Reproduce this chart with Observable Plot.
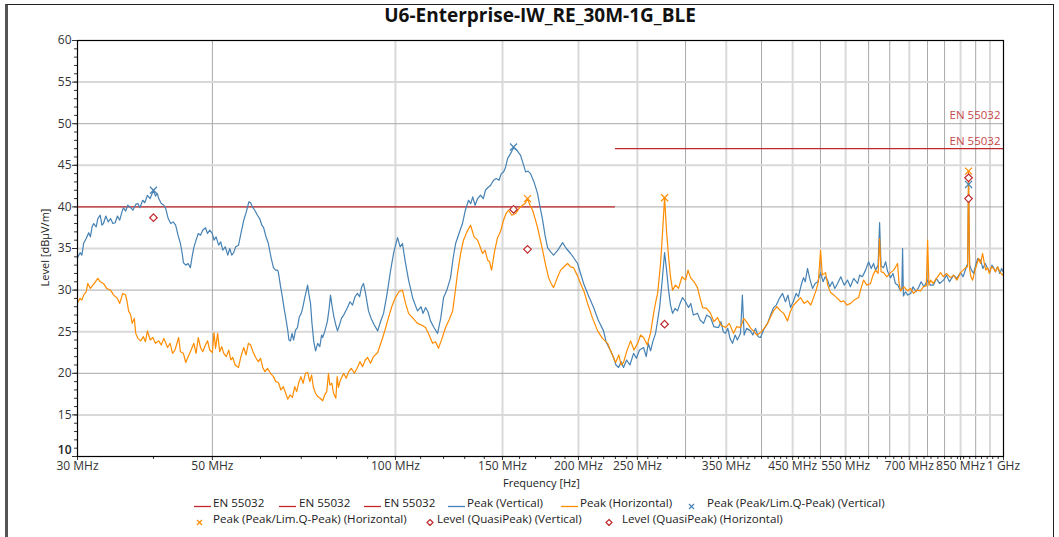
<!DOCTYPE html>
<html><head><meta charset="utf-8">
<script src="https://cdn.jsdelivr.net/npm/d3@7"></script>
<script src="https://cdn.jsdelivr.net/npm/@observablehq/plot@0.6"></script>
<style>
body{margin:0;background:#fff;font-family:"Open Sans",sans-serif;}
#wrap{position:relative;width:1059px;height:537px;overflow:hidden;background:#fff;}
#border{position:absolute;left:5px;top:4px;width:1045px;height:600px;border-top:1px solid #222;border-left:3px solid #555;border-right:1px solid #222;}
#title{position:absolute;left:0;width:1080px;top:2px;text-align:center;font-weight:700;font-size:19px;color:#111;}
#chart{position:absolute;left:0;top:0;}
.lab{position:absolute;font-size:11px;color:#222;white-space:nowrap;}
.leg{position:absolute;font-size:11.6px;color:#222;white-space:nowrap;line-height:14px;}
</style></head>
<body><div id="wrap"><div id="border"></div><div id="chart"></div><div id="title"></div></div>
<script>
const title = "U6-Enterprise-IW_RE_30M-1G_BLE";
const xTitle = "Frequency [Hz]";
const yTitle = "Level [dBµV/m]";

// Peak (Vertical) trace: [frequency MHz, level dBµV/m]
const vTrace = [[30.0,33.9],[30.3,34.5],[30.5,34.2],[30.7,35.6],[31.0,36.2],[31.3,36.9],[31.5,36.4],[31.7,37.6],[31.9,38.0],[32.2,37.6],[32.4,38.6],[32.7,39.0],[32.9,37.8],[33.1,38.0],[33.4,38.9],[33.7,38.2],[34.0,38.6],[34.3,38.0],[34.6,38.1],[34.9,38.9],[35.2,38.4],[35.5,39.4],[35.7,39.9],[36.0,39.5],[36.3,40.2],[36.7,39.9],[37.0,39.6],[37.4,40.3],[37.7,40.4],[38.0,39.9],[38.4,40.8],[38.7,40.5],[39.1,41.4],[39.5,41.0],[39.8,41.6],[40.0,42.0],[40.3,41.3],[40.6,41.6],[40.8,41.0],[41.2,40.4],[41.6,40.2],[41.9,39.8],[42.3,38.6],[42.7,38.0],[43.1,38.2],[43.5,37.8],[43.9,36.6],[44.3,35.6],[44.6,34.4],[44.8,33.3],[45.2,33.0],[45.6,33.2],[46.0,32.7],[46.3,34.0],[46.6,35.1],[47.0,36.0],[47.4,36.8],[47.8,36.6],[48.2,37.2],[48.7,37.5],[49.1,36.8],[49.5,37.2],[50.0,36.8],[50.3,36.0],[50.7,36.4],[51.2,35.4],[51.6,35.8],[52.0,34.8],[52.5,35.2],[53.0,34.2],[53.4,35.0],[53.8,34.2],[54.2,34.5],[54.6,35.2],[55.2,35.4],[55.7,36.8],[56.3,38.4],[56.9,39.5],[57.4,40.6],[57.8,40.5],[58.2,40.0],[58.7,39.6],[59.3,39.0],[59.8,38.6],[60.3,37.8],[60.7,37.5],[61.2,36.5],[61.8,35.6],[62.4,34.0],[63.0,32.7],[63.5,32.4],[64.0,32.4],[64.2,32.1],[64.7,30.5],[65.2,29.1],[65.6,27.8],[66.0,26.7],[66.5,25.2],[66.8,24.0],[67.2,23.9],[67.6,24.8],[68.0,24.0],[68.5,25.2],[69.0,25.5],[69.5,26.8],[70.0,27.2],[70.4,27.9],[70.9,29.0],[71.4,30.0],[71.7,30.6],[72.1,29.4],[72.5,28.4],[72.9,26.0],[73.4,23.8],[73.9,22.7],[74.5,23.6],[75.1,23.2],[75.6,24.6],[75.9,24.3],[76.5,25.0],[77.0,25.8],[77.3,26.3],[77.8,27.8],[78.2,29.4],[78.7,28.0],[79.2,26.8],[79.8,25.8],[80.3,25.1],[80.9,25.8],[81.5,26.6],[82.2,27.0],[83.4,27.9],[84.2,28.6],[85.0,28.2],[85.8,29.2],[86.6,29.6],[87.3,29.2],[88.0,30.4],[88.6,30.8],[89.3,29.6],[90.3,27.5],[91.2,26.6],[92.3,25.8],[93.5,25.1],[94.5,26.2],[95.6,27.2],[96.8,29.4],[98.2,32.4],[99.4,34.6],[100.8,36.3],[101.8,35.2],[102.7,35.6],[103.8,33.4],[105.1,31.2],[106.8,29.0],[108.7,27.5],[110.2,28.0],[111.0,27.2],[112.1,27.9],[113.1,27.4],[114.2,26.3],[115.7,25.5],[117.3,24.8],[118.7,26.6],[120.0,29.1],[121.5,30.0],[123.2,31.5],[124.4,33.8],[125.6,35.6],[127.2,36.8],[128.9,38.0],[130.3,39.6],[131.9,40.8],[133.0,40.4],[134.0,41.2],[135.2,40.2],[136.5,41.0],[138.0,41.4],[139.5,41.0],[140.6,42.0],[141.8,42.3],[143.4,42.6],[145.0,43.2],[146.5,43.4],[148.0,43.2],[149.3,44.0],[150.6,44.2],[151.8,44.8],[152.9,45.8],[154.6,46.4],[156.4,47.1],[158.4,46.8],[160.6,46.2],[162.2,45.2],[163.7,44.2],[165.2,44.3],[166.8,44.0],[169.0,43.0],[171.3,41.6],[172.9,40.0],[174.6,38.4],[176.2,36.6],[177.9,35.1],[180.0,34.6],[182.0,34.2],[185.0,34.8],[188.3,35.7],[191.0,35.0],[194.1,34.4],[196.8,33.8],[199.3,33.2],[201.6,32.0],[203.9,30.8],[207.5,29.4],[211.8,27.9],[215.5,26.4],[219.9,25.1],[222.0,23.8],[225.8,22.7],[228.4,21.9],[230.5,21.0],[232.8,20.7],[235.0,21.4],[237.2,20.7],[240.0,21.6],[243.0,21.0],[246.4,22.4],[249.0,21.8],[252.0,22.8],[255.9,23.1],[258.5,22.0],[260.5,23.6],[262.8,22.7],[265.0,23.8],[267.8,24.8],[269.9,26.4],[271.9,27.9],[274.5,31.0],[277.1,34.5],[279.2,32.4],[281.3,30.0],[283.4,28.2],[285.6,27.2],[288.2,27.8],[291.0,27.5],[293.8,28.4],[296.6,29.1],[300.0,28.6],[303.4,27.9],[306.0,28.4],[309.0,27.0],[313.9,27.2],[317.0,26.4],[321.2,26.0],[325.0,27.0],[329.8,26.7],[334.0,25.6],[339.9,25.5],[343.0,26.2],[346.0,25.0],[349.0,24.8],[352.0,25.4],[355.0,24.2],[358.4,23.6],[362.0,24.6],[365.0,24.0],[369.4,24.8],[372.0,29.4],[374.5,24.6],[378.0,25.4],[383.7,25.1],[387.0,24.6],[391.0,25.4],[395.0,24.4],[398.5,24.3],[403.0,25.2],[409.2,26.0],[413.0,26.8],[418.6,27.9],[423.0,28.2],[428.0,29.0],[433.1,29.6],[438.0,28.6],[442.0,29.4],[446.5,27.9],[451.0,28.6],[456.0,29.6],[460.0,29.2],[463.7,30.3],[466.5,31.0],[469.0,31.5],[472.0,31.0],[476.1,32.6],[480.0,31.4],[485.2,30.2],[490.0,30.8],[495.0,31.0],[500.2,32.1],[505.0,31.0],[509.0,31.6],[513.6,31.2],[518.0,30.4],[523.0,31.0],[528.0,30.2],[533.5,30.8],[540.0,31.6],[547.0,30.6],[554.1,31.2],[560.0,30.4],[567.0,31.4],[575.5,30.8],[580.0,31.8],[586.0,31.6],[593.2,32.4],[600.0,33.4],[606.0,32.6],[611.4,33.2],[616.0,32.4],[622.0,33.0],[625.5,38.1],[629.0,32.9],[635.0,32.7],[640.0,33.4],[645.0,32.2],[652.1,31.5],[658.0,32.0],[664.0,30.8],[670.0,30.6],[677.3,29.9],[680.5,30.2],[682.4,35.0],[684.5,29.3],[690.0,29.8],[696.0,29.4],[703.4,29.6],[710.0,30.4],[718.0,29.8],[725.0,30.3],[732.0,31.0],[740.0,30.4],[750.2,31.2],[758.0,30.6],[767.4,30.6],[775.0,31.4],[785.0,30.8],[797.1,31.2],[806.0,31.8],[815.0,31.0],[827.9,31.8],[838.0,31.4],[850.1,32.1],[858.0,31.6],[866.4,32.5],[873.0,33.2],[876.0,42.7],[879.6,33.0],[886.0,32.4],[893.0,32.0],[900.0,33.0],[907.0,33.8],[917.0,33.6],[925.0,32.6],[933.0,33.2],[941.7,32.6],[950.0,32.2],[957.0,33.0],[963.3,32.7],[970.0,32.2],[978.0,32.8],[986.0,32.0],[993.0,32.6],[1000,32.1]];

// Peak (Horizontal) trace
const hTrace = [[30.0,28.5],[30.3,29.0],[30.5,28.8],[30.7,29.4],[31.0,29.8],[31.2,30.8],[31.5,30.2],[31.8,30.6],[32.1,31.0],[32.4,31.4],[32.7,31.0],[33.1,30.8],[33.5,30.2],[34.0,30.0],[34.4,29.4],[34.9,29.0],[35.2,28.4],[35.6,29.6],[36.0,29.4],[36.2,28.6],[36.4,27.5],[36.7,27.0],[36.9,26.0],[37.2,26.6],[37.4,24.8],[37.7,24.2],[38.1,23.9],[38.5,24.4],[38.8,23.8],[39.1,25.1],[39.5,24.0],[39.9,24.3],[40.3,23.6],[40.8,23.9],[41.2,23.4],[41.6,24.2],[42.2,23.1],[42.6,23.6],[43.0,22.4],[43.4,22.8],[44.0,24.3],[44.3,22.6],[44.8,22.4],[45.2,21.3],[45.6,22.0],[46.0,22.6],[46.6,23.6],[47.0,22.4],[47.4,24.3],[47.8,23.1],[48.2,22.6],[48.7,23.4],[49.1,23.9],[49.5,22.8],[50.0,22.5],[50.3,24.9],[50.6,23.0],[51.0,24.8],[51.4,22.6],[51.8,23.2],[52.2,22.4],[52.7,22.0],[53.2,22.8],[53.6,21.6],[54.0,21.9],[54.5,21.0],[55.2,20.7],[55.7,22.0],[56.3,23.1],[56.8,22.2],[57.3,23.6],[57.8,23.4],[58.3,22.6],[58.9,21.9],[59.5,21.4],[60.0,21.8],[60.5,20.7],[61.0,20.2],[61.6,20.6],[62.3,20.0],[63.0,19.6],[63.6,19.0],[64.2,18.9],[64.8,18.0],[65.4,18.4],[66.0,17.6],[66.5,16.9],[67.1,17.4],[67.7,17.1],[68.3,18.4],[68.8,17.8],[69.3,18.8],[69.9,19.6],[70.5,18.8],[71.1,20.0],[71.7,20.1],[72.3,19.0],[72.8,19.8],[73.3,18.3],[73.9,17.6],[74.5,17.2],[75.2,17.0],[75.9,16.7],[76.5,17.4],[77.1,17.8],[77.6,20.0],[78.0,18.6],[78.6,18.8],[79.1,17.6],[79.8,17.0],[80.2,19.6],[80.6,18.3],[81.2,19.2],[82.2,20.0],[83.0,19.4],[83.8,20.2],[84.6,20.6],[85.6,20.0],[86.6,20.7],[87.4,21.4],[88.3,20.8],[89.2,21.6],[90.0,21.9],[91.0,21.2],[92.0,22.0],[93.5,22.5],[94.4,23.4],[95.3,24.3],[96.3,25.4],[97.4,26.7],[98.6,28.0],[100.0,29.1],[101.3,29.8],[102.7,30.0],[103.9,28.4],[105.1,27.2],[106.9,26.6],[108.7,26.0],[110.4,25.8],[112.1,25.5],[113.6,24.6],[115.1,23.6],[116.4,23.8],[117.7,23.0],[119.3,24.2],[120.9,25.5],[122.5,26.4],[124.2,27.5],[125.3,29.6],[126.5,32.0],[128.0,34.4],[129.4,36.0],[131.1,37.0],[132.9,37.8],[134.7,36.4],[136.5,36.0],[137.8,35.2],[139.1,34.4],[140.4,34.8],[141.8,33.6],[142.8,33.4],[143.9,32.4],[145.5,34.6],[147.2,36.3],[148.8,37.0],[150.6,38.4],[152.0,39.2],[153.5,39.6],[155.4,39.0],[157.6,39.2],[159.6,39.8],[161.8,40.2],[163.4,40.4],[164.9,41.0],[166.4,40.2],[168.1,39.6],[169.7,38.6],[171.3,37.5],[172.9,36.2],[174.6,34.8],[176.6,33.0],[178.6,31.5],[180.3,30.8],[182.0,30.3],[184.4,31.4],[186.9,32.4],[189.4,32.8],[191.9,33.2],[194.1,32.8],[196.3,32.7],[199.0,31.8],[201.6,30.8],[204.3,29.8],[207.0,28.4],[211.0,26.6],[215.0,25.1],[219.0,24.2],[223.3,23.6],[226.8,22.4],[230.2,21.3],[233.0,22.2],[235.0,21.0],[237.2,21.3],[240.0,22.6],[243.6,23.9],[246.8,22.8],[250.2,23.6],[253.0,24.6],[255.9,24.3],[259.5,23.4],[262.8,24.9],[265.8,27.2],[268.0,28.6],[269.9,29.6],[272.9,33.2],[275.0,37.0],[277.1,41.1],[279.2,37.0],[281.3,34.0],[283.4,31.6],[285.6,30.0],[288.8,30.6],[292.1,30.2],[296.0,31.6],[300.0,31.2],[302.8,32.4],[305.7,31.5],[309.8,31.0],[313.9,30.3],[317.0,29.0],[320.0,27.9],[324.9,27.8],[329.8,27.2],[334.0,26.2],[338.6,26.7],[343.0,25.8],[349.0,25.5],[354.0,26.0],[359.8,24.8],[364.0,25.6],[369.4,25.5],[374.0,26.6],[379.4,26.0],[384.0,25.4],[388.1,25.1],[393.0,24.6],[398.5,24.9],[404.0,25.4],[409.2,26.0],[414.0,26.8],[418.6,27.5],[424.0,28.0],[429.9,27.5],[435.0,27.2],[441.4,26.3],[446.0,27.4],[451.6,28.2],[457.0,28.6],[463.7,29.1],[470.0,28.4],[476.1,28.7],[482.0,28.2],[487.1,29.1],[492.0,30.0],[496.0,31.0],[500.2,34.8],[503.5,31.8],[509.7,32.1],[514.0,30.6],[519.5,29.7],[526.0,29.4],[533.5,29.0],[540.0,28.6],[545.8,28.7],[553.0,28.2],[560.4,28.4],[568.0,28.8],[577.7,29.1],[583.0,30.2],[588.7,31.2],[596.0,30.6],[604.5,30.8],[610.0,31.8],[616.1,32.4],[622.0,32.0],[625.5,36.2],[629.0,32.2],[635.0,32.1],[643.0,31.6],[652.1,32.1],[660.0,32.4],[669.6,33.2],[673.0,31.0],[677.3,29.9],[686.0,30.4],[695.5,29.9],[703.0,30.2],[711.4,29.6],[720.0,30.0],[730.6,29.9],[738.0,30.4],[746.5,30.5],[750.2,36.0],[754.0,30.6],[758.8,31.2],[766.0,30.8],[776.0,31.4],[788.1,32.1],[796.0,31.6],[806.0,32.0],[818.5,31.5],[828.0,31.8],[838.0,31.2],[850.1,32.1],[858.0,32.4],[866.4,32.7],[873.0,32.8],[876.0,44.3],[879.6,32.5],[884.0,31.6],[889.7,31.2],[896.0,32.2],[903.0,33.0],[910.1,33.8],[917.0,33.2],[924.0,34.4],[930.0,33.2],[935.0,32.4],[941.7,32.7],[948.0,32.0],[955.0,32.8],[963.3,32.6],[970.0,32.2],[978.0,32.8],[986.0,32.2],[996.6,31.8],[1000,32.0]];

// EN 55032 limit lines
const limitStart = [30, 230];
const limitEnd = [230, 1000];
const limitLevel = [40, 47];
const limitName = "EN 55032";

// Final measurement markers
const peakVFreq = [40.0, 156.4, 876];
const peakVLevel = [42.0, 47.2, 42.7];
const peakHFreq = [164.9, 277.1, 876];
const peakHLevel = [41.0, 41.1, 44.3];
const qpVFreq = [40.0, 156.4, 876];
const qpVLevel = [38.7, 39.7, 43.5];
const qpHFreq = [164.9, 277.1, 876];
const qpHLevel = [34.9, 25.9, 41.0];

// Axis ticks
const xTickValues = [30,50,100,150,200,250,350,450,550,700,850,1000];
const xTickLabels = ["30 MHz","50 MHz","100 MHz","150 MHz","200 MHz","250 MHz","350 MHz","450 MHz","550 MHz","700 MHz","850 MHz","1 GHz"];
const xMajorGrid = [100,150,200,250,350,450,550,700,850,950];
const xMinorGrid = [50,300,400,500,600,650,750,800,900];
const xMinorTicks = [40,60,70,80,90,110,120,130,140,160,170,180,190,210,220,230,240,260,270,280,290,300,310,320,330,340,360,370,380,390,400,410,420,430,440,460,470,480,490,500,520,540,560,580,600,620,640,660,680,720,740,760,780,800,820,840,860,880,900,920,940,960,980];
const yMajor = [10,15,20,25,30,35,40,45,50,55,60];
const yMajorGrid = [15,25,35,45,55];
const yMinorGrid = [20,30,40,50];
const yMinorTicks = d3.range(10, 61, 1);

const legendRow1 = ["EN 55032","EN 55032","EN 55032","Peak (Vertical)","Peak (Horizontal)","Peak (Peak/Lim.Q-Peak) (Vertical)"];
const legendRow2 = ["Peak (Peak/Lim.Q-Peak) (Horizontal)","Level (QuasiPeak) (Vertical)","Level (QuasiPeak) (Horizontal)"];

const BLUE = "#4682b4", ORANGE = "#ff8c00", RED = "#c0282d", LRED = "#c8474a";

const toObj = arr => arr.map(([f, v]) => ({f, v}));
const zip = (fs, ls) => fs.map((f, i) => ({f, v: ls[i]}));
const vData = toObj(vTrace), hData = toObj(hTrace);
const limits = limitLevel.map((v, i) => ({x1: limitStart[i], x2: limitEnd[i], v}));
const xLabelData = xTickValues.map((f, i) => ({f, t: xTickLabels[i]}));
const yLow = yMajor.slice(0, 1), yHigh = yMajor.slice(1);

const chart = Plot.plot({
  width: 1059, height: 537,
  marginTop: 40, marginBottom: 81, marginLeft: 77, marginRight: 56,
  style: {fontFamily: "Open Sans, sans-serif", fontSize: "11.5px", color: "#333", background: "transparent"},
  x: {type: "log", domain: [30, 1000]},
  y: {domain: [10, 60]},
  marks: [
    Plot.gridX(xMajorGrid, {stroke: "#d9d9d9", strokeOpacity: 1, strokeWidth: 2}),
    Plot.gridX(xMinorGrid, {stroke: "#a9a9a9", strokeOpacity: 1, strokeWidth: 1}),
    Plot.gridY(yMajorGrid, {stroke: "#d9d9d9", strokeOpacity: 1, strokeWidth: 2}),
    Plot.gridY(yMinorGrid, {stroke: "#a9a9a9", strokeOpacity: 1, strokeWidth: 1}),
    Plot.axisY({ticks: yMinorTicks, tickSize: 3, tickFormat: () => "", label: null, stroke: "#333"}),
    Plot.axisY({ticks: yMajor, tickSize: 5, tickFormat: () => "", label: null, stroke: "#333"}),
    Plot.text(yHigh, {y: d => d, text: d => String(d), frameAnchor: "left", textAnchor: "end", dx: -6, fill: "#333", fontSize: 12}),
    Plot.text(yLow, {y: d => d, text: d => String(d), frameAnchor: "left", textAnchor: "end", dx: -6, dy: -6, fill: "#222", fontSize: 12, fontWeight: 600}),
    Plot.axisX({ticks: xMinorTicks, tickSize: 3, tickFormat: () => "", label: null, stroke: "#333"}),
    Plot.axisX({ticks: xTickValues, tickSize: 4, tickFormat: () => "", label: null, stroke: "#333"}),
    Plot.text(xLabelData, {x: "f", text: "t", frameAnchor: "bottom", dy: 13, fill: "#333", fontSize: 12}),
    Plot.ruleY(limits, {x1: "x1", x2: "x2", y: "v", stroke: RED, strokeWidth: 1.3}),
    Plot.text([limitName], {x: 1000, y: limitLevel[1], text: d => d, textAnchor: "end", dx: -3, dy: -33, fill: LRED, fontSize: 11.5}),
    Plot.text([limitName], {x: 1000, y: limitLevel[1], text: d => d, textAnchor: "end", dx: -3, dy: -7, fill: LRED, fontSize: 11.5}),
    Plot.line(vData, {x: "f", y: "v", stroke: BLUE, strokeWidth: 1.2}),
    Plot.line(hData, {x: "f", y: "v", stroke: ORANGE, strokeWidth: 1.2}),
    Plot.dot(zip(peakVFreq, peakVLevel), {x: "f", y: "v", symbol: "times", r: 3.3, stroke: BLUE, strokeWidth: 1.2}),
    Plot.dot(zip(peakHFreq, peakHLevel), {x: "f", y: "v", symbol: "times", r: 3.3, stroke: ORANGE, strokeWidth: 1.2}),
    Plot.dot(zip(qpVFreq, qpVLevel), {x: "f", y: "v", symbol: "diamond2", r: 3.4, stroke: RED, fill: "white", strokeWidth: 1.2}),
    Plot.dot(zip(qpHFreq, qpHLevel), {x: "f", y: "v", symbol: "diamond2", r: 3.4, stroke: RED, fill: "white", strokeWidth: 1.2}),
    Plot.frame({stroke: "#000", strokeWidth: 1.2})
  ]
});
document.getElementById("chart").appendChild(chart);
document.getElementById("title").textContent = title;

const wrap = document.getElementById("wrap");
function addDiv(cls, text, left, top, extra) {
  const d = document.createElement("div");
  d.className = cls; d.textContent = text;
  d.style.left = left + "px"; d.style.top = top + "px";
  if (extra) Object.assign(d.style, extra);
  wrap.appendChild(d); return d;
}
addDiv("lab", xTitle, 503, 475);
addDiv("lab", yTitle, 4, 240, {transform: "rotate(-90deg)", transformOrigin: "center center", width: "80px", textAlign: "center"});

// legend
const ns = "http://www.w3.org/2000/svg";
function swatch(kind, color) {
  const s = document.createElementNS(ns, "svg");
  s.setAttribute("width", 18); s.setAttribute("height", 14);
  let el;
  if (kind === "line") {
    el = document.createElementNS(ns, "line");
    el.setAttribute("x1", 0); el.setAttribute("x2", 17); el.setAttribute("y1", 10.5); el.setAttribute("y2", 10.5);
    el.setAttribute("stroke", color); el.setAttribute("stroke-width", 1.3);
  } else if (kind === "x") {
    el = document.createElementNS(ns, "path");
    el.setAttribute("d", "M6,8L11,13M11,8L6,13");
    el.setAttribute("stroke", color); el.setAttribute("stroke-width", 1.2); el.setAttribute("fill", "none");
  } else {
    el = document.createElementNS(ns, "path");
    el.setAttribute("d", "M9,7.5L12,10.5L9,13.5L6,10.5Z");
    el.setAttribute("stroke", color); el.setAttribute("stroke-width", 1.2); el.setAttribute("fill", "white");
  }
  s.appendChild(el); return s;
}
const row1Kinds = [["line",RED],["line",RED],["line",RED],["line",BLUE],["line",ORANGE],["x",BLUE]];
const row1Swatch = [194, 279, 364, 448, 561, 683];
const row1Text = [213, 299, 384, 467, 580, 707];
legendRow1.forEach((t, i) => {
  const sw = swatch(...row1Kinds[i]);
  sw.style.position = "absolute"; sw.style.left = row1Swatch[i] + "px"; sw.style.top = "496px";
  wrap.appendChild(sw);
  addDiv("leg", t, row1Text[i], 496);
});
const row2Kinds = [["x",ORANGE],["d",RED],["d",RED]];
const row2Swatch = [191, 421, 600];
const row2Text = [213, 437, 622];
legendRow2.forEach((t, i) => {
  const sw = swatch(...row2Kinds[i]);
  sw.style.position = "absolute"; sw.style.left = row2Swatch[i] + "px"; sw.style.top = "512px";
  wrap.appendChild(sw);
  addDiv("leg", t, row2Text[i], 512);
});
</script></body></html>
